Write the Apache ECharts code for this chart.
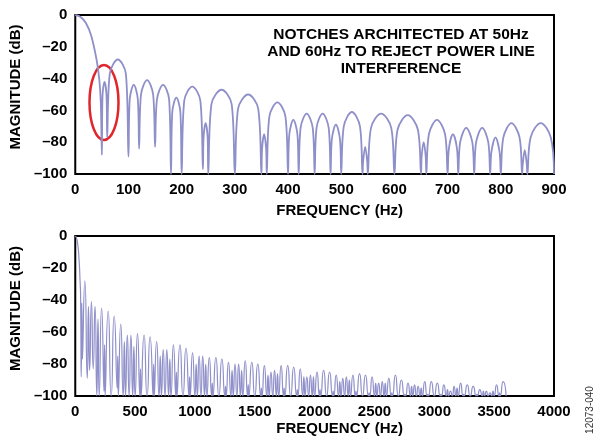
<!DOCTYPE html>
<html>
<head>
<meta charset="utf-8">
<script src="https://cdn.jsdelivr.net/npm/echarts@6/dist/echarts.min.js"></script>
<style>
  html, body { margin: 0; padding: 0; background: #fff; }
  #main { width: 598px; height: 439px; }
</style>
</head>
<body>
<div id="main"></div>
<script>
// top panel, 0-900 Hz: notches at every 50 Hz and 60 Hz multiple
// points per lobe: left shoulder, peak, right shoulder, notch
const topHz = [
  0, 10, 20, 30, 40, 45, 48, 50,
  51.2, 55, 58.8, 60,
  64.8, 80, 95.2, 100,
  102.4, 110, 117.6, 120,
  123.6, 135, 146.4, 150,
  153.6, 165, 176.4, 180,
  182.4, 190, 197.6, 200,
  204.8, 220, 235.2, 240,
  241.2, 245, 248.8, 250,
  256, 275, 294, 300,
  306, 325, 344, 350,
  351.2, 355, 358.8, 360,
  364.8, 380, 395.2, 400,
  402.4, 410, 417.6, 420,
  423.6, 435, 446.4, 450,
  453.6, 465, 476.4, 480,
  482.4, 490, 497.6, 500,
  504.8, 520, 535.2, 540,
  541.2, 545, 548.8, 550,
  556, 575, 594, 600,
  606, 625, 644, 650,
  651.2, 655, 658.8, 660,
  664.8, 680, 695.2, 700,
  702.4, 710, 717.6, 720,
  723.6, 735, 746.4, 750,
  753.6, 765, 776.4, 780,
  782.4, 790, 797.6, 800,
  804.8, 820, 835.2, 840,
  841.2, 845, 848.8, 850,
  856, 875, 894, 900
];
const topDb = [
  0, -1.2, -5, -13, -28, -40, -55, -88,
  -51, -42, -51, -77,
  -37, -28, -37, -89,
  -53, -44, -53, -84,
  -50, -41, -50, -83,
  -53, -44, -53, -100,
  -61, -52, -61, -100,
  -54, -45, -54, -97,
  -77, -68, -77, -100,
  -56, -47, -56, -100,
  -59, -50, -59, -100,
  -84, -75, -84, -100,
  -64, -55, -64, -100,
  -75, -66, -75, -100,
  -71, -62, -71, -100,
  -71, -62, -71, -100,
  -78, -69, -78, -100,
  -70, -61, -70, -100,
  -92, -83, -92, -100,
  -71, -62, -71, -100,
  -72, -63, -72, -100,
  -89, -80, -89, -100,
  -75, -66, -75, -100,
  -84, -75, -84, -100,
  -80, -71, -80, -100,
  -80, -71, -80, -100,
  -86, -77, -86, -100,
  -77, -68, -77, -100,
  -94, -85, -94, -100,
  -77, -68, -77, -100
];

// bottom panel, 0-4000 Hz
const botMainHz = [0, 10, 20, 30, 40, 45];
const botMainDb = [0, -1.2, -5, -13, -28, -40];
const botNotchHz = [
  50, 60, 100, 120, 150, 180, 200, 240, 250, 300,
  350, 360, 400, 420, 450, 480, 500, 540, 550, 600,
  650, 660, 700, 720, 750, 780, 800, 840, 850, 900,
  950, 960, 1000, 1020, 1050, 1080, 1100, 1140, 1150, 1200,
  1250, 1260, 1300, 1320, 1350, 1380, 1400, 1440, 1450, 1500,
  1550, 1560, 1600, 1620, 1650, 1680, 1700, 1740, 1750, 1800,
  1850, 1860, 1900, 1920, 1950, 1980, 2000, 2040, 2050, 2100,
  2150, 2160, 2200, 2220, 2250, 2280, 2300, 2340, 2350, 2400,
  2450, 2460, 2500, 2520, 2550, 2580, 2600, 2640, 2650, 2700,
  2750, 2760, 2800, 2820, 2850, 2880, 2900, 2940, 2950, 3000,
  3050, 3060, 3100, 3120, 3150, 3180, 3200, 3240, 3250, 3300,
  3350, 3360, 3400, 3420, 3450, 3480, 3500, 3540, 3550, 3600
];
const botNotchDb = [
  -88, -77, -89, -84, -83, -100, -100, -97, -100, -100,
  -95, -100, -100, -100, -100, -100, -100, -100, -100, -100,
  -100, -100, -100, -100, -100, -100, -100, -100, -100, -100,
  -100, -100, -100, -100, -100, -100, -100, -100, -100, -100,
  -100, -100, -100, -100, -100, -100, -100, -100, -100, -100,
  -100, -100, -100, -100, -100, -100, -100, -100, -100, -100,
  -100, -100, -100, -100, -100, -100, -100, -100, -100, -100,
  -100, -100, -100, -100, -100, -100, -100, -100, -100, -100,
  -100, -100, -100, -100, -100, -100, -100, -100, -100, -100,
  -100, -100, -100, -100, -100, -100, -100, -100, -100, -100,
  -100, -100, -100, -100, -100, -100, -100, -100, -100, -100,
  -100, -100, -100, -100, -100, -100, -100, -100, -100, -100
];
const botPeakHz = [
  55, 80, 110, 135, 165, 190, 220, 245, 275,
  325, 355, 380, 410, 435, 465, 490, 520, 545, 575,
  625, 655, 680, 710, 735, 765, 790, 820, 845, 875,
  925, 955, 980, 1010, 1035, 1065, 1090, 1120, 1145, 1175,
  1225, 1255, 1280, 1310, 1335, 1365, 1390, 1420, 1445, 1475,
  1525, 1555, 1580, 1610, 1635, 1665, 1690, 1720, 1745, 1775,
  1825, 1855, 1880, 1910, 1935, 1965, 1990, 2020, 2045, 2075,
  2125, 2155, 2180, 2210, 2235, 2265, 2290, 2320, 2345, 2375,
  2425, 2455, 2480, 2510, 2535, 2565, 2590, 2620, 2645, 2675,
  2725, 2755, 2780, 2810, 2835, 2865, 2890, 2920, 2945, 2975,
  3025, 3055, 3080, 3110, 3135, 3165, 3190, 3220, 3245, 3275,
  3325, 3355, 3380, 3410, 3435, 3465, 3490, 3520, 3545, 3575
];
const botPeakDb = [
  -42, -28, -44, -41, -44, -52, -45, -68, -47,
  -50, -75, -55, -66, -62, -62, -69, -61, -83, -62,
  -63, -80, -66, -75, -71, -71, -77, -68, -85, -68,
  -70, -88, -73, -80, -75, -75, -80, -76, -92, -76,
  -77, -94, -79, -84, -80, -80, -84, -78, -93, -79,
  -80, -95, -81, -87, -85, -84, -86, -81, -95, -81,
  -82, -96, -83, -88, -88, -87, -88, -85, -96, -84,
  -85, -97, -87, -91, -89, -88, -90, -87, -97, -86,
  -87, -98, -88, -92, -92, -91, -92, -89, -98, -87,
  -90, -99, -92, -94, -93, -94, -95, -91, -99, -91,
  -92, -99, -93, -96, -97, -94, -95, -92, -99, -93,
  -94, -99, -96, -97, -97, -98, -97, -93, -98, -91
];

const yTicks = ['0', '–20', '–40', '–60', '–80', '–100'];
const noteText = 'NOTCHES ARCHITECTED AT 50Hz\nAND 60Hz TO REJECT POWER LINE\nINTERFERENCE';

const FONT = '"Liberation Sans", Arial, Helvetica, sans-serif';
const LINE_COLOR = '#8f8fca';

const topData = topHz.map(function (f, i) { return [f, topDb[i]]; });

const botData = botMainHz.map(function (f, i) { return [f, botMainDb[i]]; });
botData.push([botNotchHz[0], botNotchDb[0]]);
for (let i = 0; i < botPeakHz.length; i++) {
  botData.push([botPeakHz[i], botPeakDb[i]]);
  botData.push([botNotchHz[i + 1], botNotchDb[i + 1]]);
}

function xAxisFor(idx, max, interval) {
  return {
    type: 'value',
    gridIndex: idx,
    min: 0,
    max: max,
    interval: interval,
    axisLine: { show: false },
    axisTick: { show: false },
    splitLine: { show: false },
    axisLabel: {
      color: '#000', fontFamily: FONT, fontWeight: 'bold', fontSize: 15, margin: 8,
      formatter: function (v) { return String(v); }
    },
    name: 'FREQUENCY (Hz)',
    nameLocation: 'middle',
    nameGap: idx === 0 ? 29 : 25,
    nameTextStyle: { color: '#000', fontFamily: FONT, fontWeight: 'bold', fontSize: 15, padding: [0, 0, 0, 50] }
  };
}

function yAxisFor(idx) {
  return {
    type: 'value',
    gridIndex: idx,
    min: -100,
    max: 0,
    interval: 20,
    axisLine: { show: false },
    axisTick: { show: false },
    splitLine: { show: false },
    axisLabel: {
      color: '#000', fontFamily: FONT, fontWeight: 'bold', fontSize: 15, margin: 8,
      formatter: function (v) { return yTicks[Math.round(-v / 20)]; }
    },
    name: 'MAGNITUDE (dB)',
    nameLocation: 'middle',
    nameRotate: 90,
    nameGap: 46,
    nameTextStyle: { color: '#000', fontFamily: FONT, fontWeight: 'bold', fontSize: 15, padding: [0, 0, 0, 15] }
  };
}

const chart = echarts.init(document.getElementById('main'));

chart.setOption({
  animation: false,
  backgroundColor: '#fff',
  grid: [
    { left: 73, top: 15, width: 481, height: 159, show: true, borderColor: '#000', borderWidth: 2 },
    { left: 73, top: 236, width: 481, height: 160, show: true, borderColor: '#000', borderWidth: 2 }
  ],
  xAxis: [xAxisFor(0, 900, 100), xAxisFor(1, 4000, 500)],
  yAxis: [yAxisFor(0), yAxisFor(1)],
  series: [
    {
      type: 'line',
      xAxisIndex: 0,
      yAxisIndex: 0,
      data: topData,
      smooth: 0.35,
      showSymbol: false,
      lineStyle: { color: LINE_COLOR, width: 1.8 }
    },
    {
      type: 'line',
      xAxisIndex: 1,
      yAxisIndex: 1,
      data: botData,
      smooth: 0.7,
      showSymbol: false,
      lineStyle: { color: LINE_COLOR, width: 1.2 }
    }
  ]
});

// red ring round the 50 Hz / 60 Hz notches
const ring = chart.convertToPixel({ gridIndex: 0 }, [54, -55]);

chart.setOption({
  graphic: [
    {
      type: 'text',
      x: 401,
      y: 26,
      style: {
        text: noteText,
        font: 'bold 15.5px ' + FONT,
        fill: '#000',
        textAlign: 'center',
        textVerticalAlign: 'top',
        lineHeight: 17
      }
    },
    {
      type: 'ellipse',
      shape: { cx: ring[0], cy: ring[1], rx: 14.5, ry: 37.5 },
      style: { fill: 'none', stroke: '#e0262b', lineWidth: 2.5 }
    },
    {
      type: 'text',
      x: 590,
      y: 410,
      rotation: Math.PI / 2,
      style: {
        text: '12073-040',
        font: '10px ' + FONT,
        fill: '#333',
        textAlign: 'center',
        textVerticalAlign: 'middle'
      }
    }
  ]
});
</script>
</body>
</html>
